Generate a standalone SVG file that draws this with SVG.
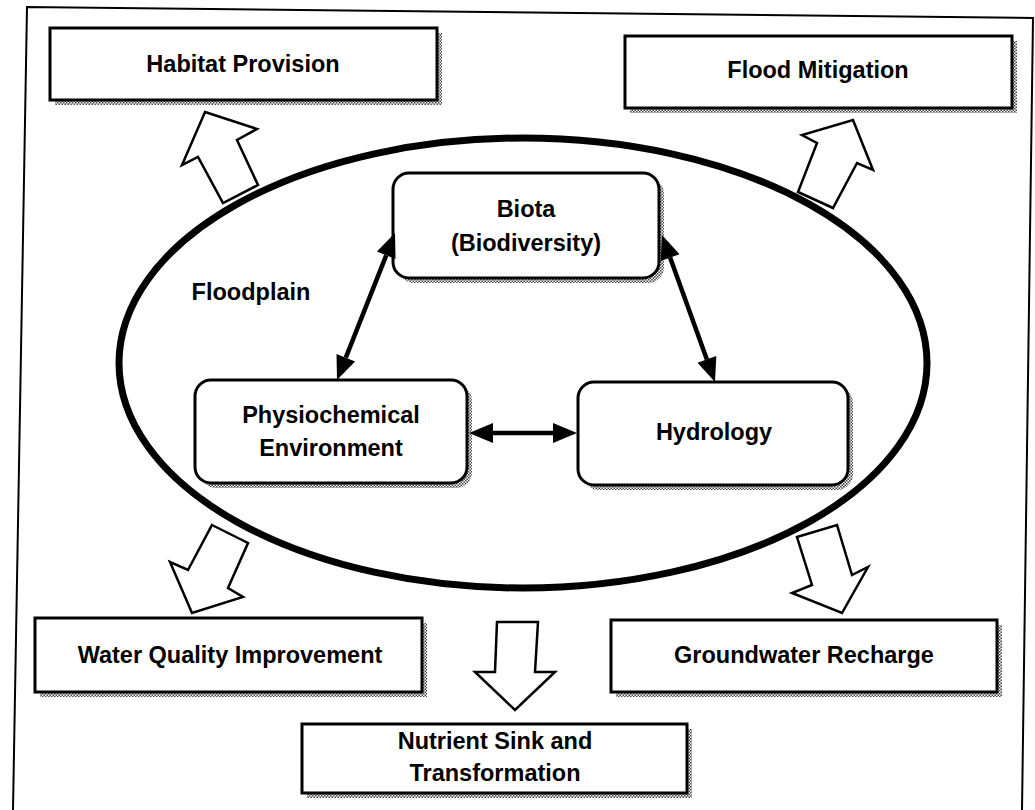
<svg xmlns="http://www.w3.org/2000/svg" width="1035" height="810" viewBox="0 0 1035 810">
  <defs>
    <!-- fine checker used for the dotted drop shadows -->
    <pattern id="dots" width="3" height="3" patternUnits="userSpaceOnUse">
      <rect width="3" height="3" fill="#ffffff"/>
      <rect width="1.5" height="1.5" fill="#444"/>
      <rect x="1.5" y="1.5" width="1.5" height="1.5" fill="#444"/>
    </pattern>
  </defs>
  <style>
    .box { fill: #ffffff; stroke: #000; stroke-width: 3; }
    .shadow { fill: url(#dots); stroke: none; }
    .lbl { font-family: "Liberation Sans", Arial, Helvetica, sans-serif; font-weight: bold; font-size: 23.5px; fill: #000; text-anchor: middle; }
    .block { fill: #ffffff; stroke: #000; stroke-width: 2.5; stroke-linejoin: miter; }
    .shaft { stroke: #000; stroke-width: 4.5; fill: none; }
    .tip { fill: #000; stroke: none; }
  </style>

  <rect width="1035" height="810" fill="#ffffff"/>

  <!-- outer frame -->
  <polyline points="13,810 27,7 1033,18 1022,810" fill="none" stroke="#000" stroke-width="2"/>

  <!-- floodplain ellipse -->
  <g id="floodplain">
    <ellipse cx="523" cy="363" rx="404" ry="225" fill="none" stroke="#000" stroke-width="7"/>
    <text class="lbl" x="251" y="300">Floodplain</text>
  </g>

  <!-- service boxes -->
  <g id="habitat-provision">
    <rect class="shadow" x="55" y="33" width="387" height="72"/>
    <rect class="box" x="50" y="28" width="387" height="72"/>
    <text class="lbl" x="243" y="72">Habitat Provision</text>
  </g>
  <g id="flood-mitigation">
    <rect class="shadow" x="630" y="41" width="387" height="72"/>
    <rect class="box" x="625" y="36" width="387" height="72"/>
    <text class="lbl" x="818" y="78">Flood Mitigation</text>
  </g>
  <g id="water-quality">
    <rect class="shadow" x="40" y="623" width="387" height="74"/>
    <rect class="box" x="35" y="618" width="387" height="74"/>
    <text class="lbl" x="230" y="663">Water Quality Improvement</text>
  </g>
  <g id="groundwater-recharge">
    <rect class="shadow" x="616" y="625" width="386" height="72"/>
    <rect class="box" x="611" y="620" width="386" height="72"/>
    <text class="lbl" x="804" y="663">Groundwater Recharge</text>
  </g>
  <g id="nutrient-sink">
    <rect class="shadow" x="307" y="729" width="385" height="69"/>
    <rect class="box" x="302" y="724" width="385" height="69"/>
    <text class="lbl" x="495" y="749">Nutrient Sink and</text>
    <text class="lbl" x="495" y="781">Transformation</text>
  </g>

  <!-- floodplain components -->
  <g id="biota">
    <rect class="shadow" x="398" y="178" width="266" height="105" rx="16"/>
    <rect class="box" x="393" y="173" width="266" height="105" rx="16"/>
    <text class="lbl" x="526" y="217">Biota</text>
    <text class="lbl" x="526" y="251">(Biodiversity)</text>
  </g>
  <g id="physiochemical">
    <rect class="shadow" x="200" y="385" width="272" height="103" rx="16"/>
    <rect class="box" x="195" y="380" width="272" height="103" rx="16"/>
    <text class="lbl" x="331" y="423">Physiochemical</text>
    <text class="lbl" x="331" y="456">Environment</text>
  </g>
  <g id="hydrology">
    <rect class="shadow" x="583" y="387" width="270" height="103" rx="16"/>
    <rect class="box" x="578" y="382" width="270" height="103" rx="16"/>
    <text class="lbl" x="714" y="440">Hydrology</text>
  </g>

  <!-- connectors -->
  <g id="connectors">
    <!-- Biota <-> Physiochemical Environment -->
    <line class="shaft" x1="386.2" y1="255.3" x2="345.8" y2="357.7"/>
    <polygon class="tip" points="395,233 395.5,259 376.9,251.6"/>
    <polygon class="tip" points="337,380 355.1,361.4 336.5,354"/>
    <!-- Biota <-> Hydrology -->
    <line class="shaft" x1="670.1" y1="257.6" x2="706.9" y2="359.4"/>
    <polygon class="tip" points="662,235 679.5,254.2 660.7,261"/>
    <polygon class="tip" points="715,382 716.3,356 697.5,362.8"/>
    <!-- Physiochemical Environment <-> Hydrology -->
    <line class="shaft" x1="493" y1="433" x2="553" y2="433"/>
    <polygon class="tip" points="469,433 493,423 493,443"/>
    <polygon class="tip" points="577,433 553,423 553,443"/>
    <!-- hollow block arrows from the floodplain to each service -->
    <polygon class="block" points="205,112 257,129 237,140 258,185 223,203 198,157 182,165"/>
    <polygon class="block" points="853,120 873,170 857,163 833,208 798,192 817,143 802,135"/>
    <polygon class="block" points="212,525 248,543 228,588 243,597 192,613 170,562 188,570"/>
    <polygon class="block" points="797,537 837,525 852,575 868,567 842,613 792,593 812,585"/>
    <polygon class="block" points="497,622 538,622 535,672 555,672 515,710 475,672 495,672"/>
  </g>
</svg>
